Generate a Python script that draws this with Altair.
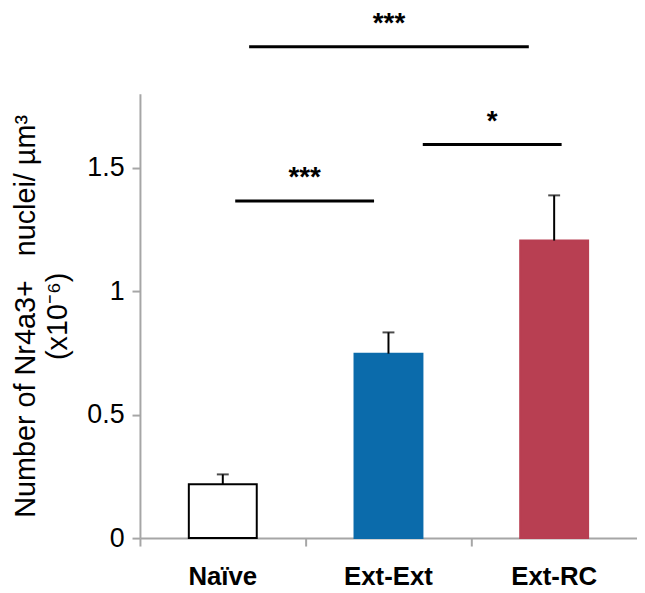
import altair as alt
import pandas as pd

# ---- data ----
groups = ["Naïve", "Ext-Ext", "Ext-RC"]
means = [0.218, 0.747, 1.205]
sems = [0.040, 0.086, 0.183]
fill_colors = ["#FFFFFF", "#0B6BAB", "#B83F52"]
stroke_colors = ["#000000", "#0B6BAB", "#B83F52"]

# significance brackets (x in category-index units, 0..3)
sig_x1 = [0.575, 1.707, 0.659]
sig_x2 = [1.413, 2.545, 2.347]
sig_y = [1.365, 1.594, 1.99]
sig_labels = ["***", "*", "***"]

y_ticks = [0, 0.5, 1, 1.5]

FONT = "Liberation Sans"

df = pd.DataFrame({"group": groups, "mean": means, "sem": sems})
df["upper"] = df["mean"] + df["sem"]

sig = pd.DataFrame({"x1": sig_x1, "x2": sig_x2, "mean": sig_y, "label": sig_labels})
sig["xm"] = (sig["x1"] + sig["x2"]) / 2

TITLE = ["Number of Nr4a3+\u00a0\u00a0\u00a0nuclei/ µm³", "(x10⁻⁶)"]

x_enc = alt.X(
    "group:N",
    sort=groups,
    scale=alt.Scale(paddingInner=0, paddingOuter=0),
    axis=alt.Axis(
        title=None,
        labelAngle=0,
        labelFont=FONT,
        labelFontSize=26,
        labelFontWeight="bold",
        labelColor="#000000",
        labelPadding=18,
        bandPosition=0,
        domainColor="#A6A6A6",
        domainWidth=2,
        tickColor="#A6A6A6",
        tickWidth=2,
        tickSize=8,
    ),
)

y_scale = alt.Scale(domain=[0, 1.8], nice=False)

y_axis = alt.Axis(
    values=y_ticks,
    format=".1~f",
    grid=False,
    labelFont=FONT,
    labelFontSize=27,
    labelColor="#000000",
    labelPadding=8,
    domainColor="#A6A6A6",
    domainWidth=2,
    tickColor="#A6A6A6",
    tickWidth=2,
    tickSize=8,
    title=TITLE,
    titleFont=FONT,
    titleFontSize=29,
    titleFontWeight="normal",
    titleColor="#000000",
    titleLineHeight=32,
    titleX=-100,
    titleY=224,
)

base = alt.Chart(df)

bars = base.mark_bar(width={"band": 0.41}, strokeWidth=2).encode(
    x=x_enc,
    y=alt.Y("mean:Q", scale=y_scale, axis=y_axis, title=TITLE),
    fill=alt.Fill("group:N", scale=alt.Scale(domain=groups, range=fill_colors), legend=None),
    stroke=alt.Stroke("group:N", scale=alt.Scale(domain=groups, range=stroke_colors), legend=None),
)

err = base.mark_rule(color="#000000", strokeWidth=2).encode(
    x=alt.X("group:N", sort=groups),
    y=alt.Y("mean:Q", scale=y_scale, title=TITLE),
    y2="upper:Q",
)

caps = base.mark_tick(color="#000000", size=12, thickness=2).encode(
    x=alt.X("group:N", sort=groups),
    y=alt.Y("upper:Q", scale=y_scale, title=TITLE),
)

main = alt.layer(bars, err, caps)

sx_scale = alt.Scale(domain=[0, 3], nice=False, zero=False)
sig_base = alt.Chart(sig)
sig_lines = sig_base.mark_rule(color="#000000", strokeWidth=3).encode(
    x=alt.X("x1:Q", scale=sx_scale, axis=None),
    x2="x2:Q",
    y=alt.Y("mean:Q", scale=y_scale, title=TITLE),
)
sig_text = sig_base.mark_text(
    font=FONT, fontSize=28, fontWeight="bold", color="#000000", baseline="alphabetic", dy=-15
).encode(
    x=alt.X("xm:Q", scale=sx_scale, axis=None),
    y=alt.Y("mean:Q", scale=y_scale, title=TITLE),
    text="label:N",
)

chart = (
    alt.layer(main, sig_lines, sig_text)
    .resolve_scale(x="independent")
    .properties(
        width=501,
        height=448,
        autosize=alt.AutoSizeParams(type="none"),
        padding={"left": 133, "top": 84, "right": 0, "bottom": 50},
        background="#FFFFFF",
    )
    .configure_view(stroke=None)
)

chart.save("out.html", embed_options={"renderer": "svg", "actions": False})
